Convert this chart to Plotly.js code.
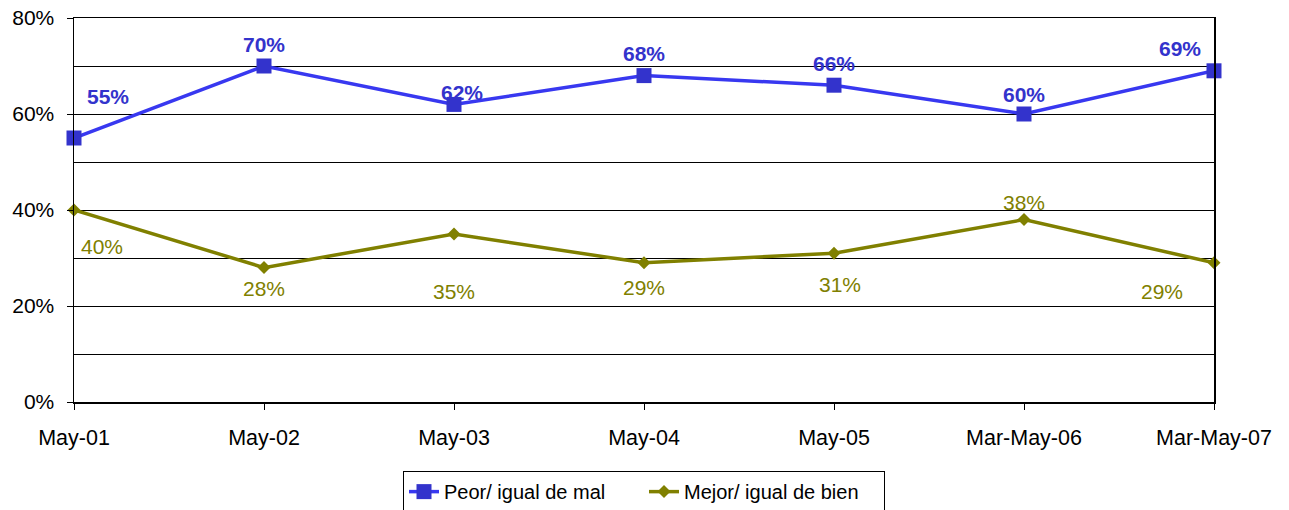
<!DOCTYPE html>
<html>
<head>
<meta charset="utf-8">
<script src="https://cdn.plot.ly/plotly-3.0.1.min.js"></script>
<style>
  html, body { margin: 0; padding: 0; background: #fff; }
  #chart { width: 1289px; height: 510px; }
</style>
</head>
<body>
<div id="chart"></div>
<script>
// categories and series values
var periods = ["May-01", "May-02", "May-03", "May-04", "May-05", "Mar-May-06", "Mar-May-07"];
var peorValues = [0.55, 0.70, 0.62, 0.68, 0.66, 0.60, 0.69];
var mejorValues = [0.40, 0.28, 0.35, 0.29, 0.31, 0.38, 0.29];
var peorName = "Peor/ igual de mal";
var mejorName = "Mejor/ igual de bien";

// label offsets (pixels) for each point's data label
var peorShiftX = [34, 0, 8, 0, 0, 0, -34];
var peorShiftY = [42, 22, 12, 22, 22, 20, 22];
var mejorShiftX = [28, 0, 0, 0, 6, 0, -52];
var mejorShiftY = [-36, -21, -57, -25, -31, 17, -29];

var blue = "#3333CC";
var olive = "#808000";
var fontFam = "Liberation Sans, Arial, sans-serif";

var trace1 = {
    x: periods,
    y: peorValues,
    name: peorName,
    type: "scatter",
    mode: "lines+markers",
    line: { color: "#3838F0", width: 3.5 },
    marker: { symbol: "square", size: 15, color: blue },
    cliponaxis: false,
    hoverinfo: "skip"
};
var trace2 = {
    x: periods,
    y: mejorValues,
    name: mejorName,
    type: "scatter",
    mode: "lines+markers",
    line: { color: olive, width: 3.5 },
    marker: { symbol: "diamond", size: 10, color: olive },
    cliponaxis: false,
    hoverinfo: "skip"
};

var annotations = [];
periods.forEach(function (p, i) {
    annotations.push({
        x: i, y: peorValues[i], xref: "x", yref: "y",
        text: "<b>" + Math.round(peorValues[i] * 100) + "%</b>",
        showarrow: false, xshift: peorShiftX[i], yshift: peorShiftY[i],
        font: { family: fontFam, size: 21, color: blue }
    });
    annotations.push({
        x: i, y: mejorValues[i], xref: "x", yref: "y",
        text: Math.round(mejorValues[i] * 100) + "%",
        showarrow: false, xshift: mejorShiftX[i], yshift: mejorShiftY[i],
        font: { family: fontFam, size: 21, color: olive }
    });
});

var data = [trace1, trace2];
var layout = {
    width: 1289,
    height: 510,
    margin: { l: 74, r: 75, t: 18, b: 108, autoexpand: false },
    paper_bgcolor: "#fff",
    plot_bgcolor: "#fff",
    font: { family: fontFam, size: 20, color: "#000" },
    showlegend: true,
    xaxis: {
        type: "category",
        range: [0, 6],
        showgrid: false,
        zeroline: false,
        showline: true,
        linecolor: "#000",
        linewidth: 1.5,
        mirror: true,
        ticks: "outside",
        ticklen: 6,
        tickcolor: "#000",
        ticklabelstandoff: 10,
        tickfont: { size: 21.5, color: "#000" }
    },
    yaxis: {
        range: [0, 0.8],
        tickvals: [0, 0.2, 0.4, 0.6, 0.8],
        tickformat: ".0%",
        showgrid: true,
        gridcolor: "#000",
        gridwidth: 1,
        minor: { dtick: 0.1, tick0: 0, showgrid: true, gridcolor: "#000", gridwidth: 1 },
        zeroline: false,
        showline: true,
        linecolor: "#000",
        linewidth: 1.5,
        mirror: true,
        ticks: "outside",
        ticklen: 6,
        tickcolor: "#000",
        ticklabelstandoff: 8,
        tickfont: { size: 21, color: "#000" }
    },
    legend: {
        orientation: "h",
        x: 0.5,
        xanchor: "center",
        y: -0.18,
        yanchor: "top",
        bordercolor: "#000",
        borderwidth: 1,
        bgcolor: "#fff",
        entrywidth: 195,
        font: { size: 20, color: "#000" },
        itemclick: false
    },
    annotations: annotations
};

Plotly.newPlot("chart", data, layout, { displayModeBar: false, staticPlot: true });
</script>
</body>
</html>
